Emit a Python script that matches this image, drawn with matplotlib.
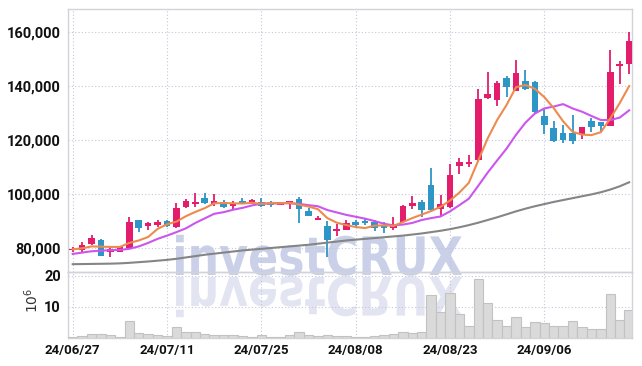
import matplotlib
matplotlib.use("Agg")
import matplotlib.pyplot as plt
import numpy as np
from matplotlib.textpath import TextPath
from matplotlib.patches import PathPatch
from matplotlib.font_manager import FontProperties
from matplotlib.transforms import Affine2D

# trading days (KRX), yy/mm/dd
dates = ["24/06/27", "24/06/28", "24/07/01", "24/07/02", "24/07/03", "24/07/04", "24/07/05", "24/07/08",
         "24/07/09", "24/07/10", "24/07/11", "24/07/12", "24/07/15", "24/07/16", "24/07/17", "24/07/18",
         "24/07/19", "24/07/22", "24/07/23", "24/07/24", "24/07/25", "24/07/26", "24/07/29", "24/07/30",
         "24/07/31", "24/08/01", "24/08/02", "24/08/05", "24/08/06", "24/08/07", "24/08/08", "24/08/09",
         "24/08/12", "24/08/13", "24/08/14", "24/08/16", "24/08/19", "24/08/20", "24/08/21", "24/08/22",
         "24/08/23", "24/08/26", "24/08/27", "24/08/28", "24/08/29", "24/08/30", "24/09/02", "24/09/03",
         "24/09/04", "24/09/05", "24/09/06", "24/09/09", "24/09/10", "24/09/11", "24/09/12", "24/09/13",
         "24/09/19", "24/09/20", "24/09/23", "24/09/24"]

opens = [79000, 79100, 81300, 83000, 78300, 78500, 80000, 90200, 88200, 88500,
         89900, 87700, 95100, 96100, 98400, 96300, 96800, 95500, 97400, 96700,
         96800, 96000, 96000, 96300, 98200, 93600, 90400, 88100, 86300, 86700,
         89500, 90000, 89400, 88400, 87400, 89600, 95500, 97000, 103200, 94500,
         95200, 110300, 110900, 112400, 135700, 134800, 143100, 138300, 142000, 141600,
         129000, 124400, 122600, 122600, 122000, 126900, 126800, 125100, 147300, 148200]
highs = [80200, 82000, 84700, 83400, 80400, 80400, 91400, 90300, 89600, 90400,
         90200, 96600, 98200, 100200, 100400, 99800, 97800, 97500, 98500, 98200,
         98500, 97300, 96900, 97500, 99000, 94600, 91900, 89900, 88900, 90200,
         90200, 90800, 90200, 89600, 91500, 95800, 99200, 97600, 109600, 99700,
         111200, 113300, 114500, 138900, 145300, 142000, 143800, 149700, 146000, 142000,
         131500, 126900, 125500, 129300, 124900, 128000, 126800, 153300, 149400, 160100]
lows = [78500, 78500, 81000, 76900, 76400, 78400, 79800, 85900, 86700, 87700,
        87700, 87500, 94800, 95100, 96300, 95600, 94800, 93900, 96100, 96300,
        95300, 95300, 95800, 94500, 89200, 91700, 90200, 76400, 84500, 86500,
        87700, 88400, 86200, 85300, 86500, 89400, 94300, 91500, 93700, 91800,
        94900, 107200, 109900, 111800, 135200, 132700, 135800, 138000, 138500, 130000,
        122200, 119100, 118900, 118500, 120400, 123100, 122800, 125000, 140700, 144400]
closes = [79500, 81000, 83800, 77000, 79400, 80100, 89400, 87400, 89000, 89400,
          88100, 94800, 97200, 96800, 96600, 97200, 95100, 96600, 96600, 97800,
          95500, 95800, 96800, 97400, 94500, 91900, 91000, 82800, 87000, 89200,
          88400, 89000, 87400, 87400, 88400, 95400, 96500, 93900, 93900, 96100,
          106900, 111800, 111900, 135200, 137200, 141000, 139800, 145000, 139000, 130200,
          125400, 119500, 120100, 119800, 124900, 124700, 125100, 145300, 148300, 156800]

# volume, millions of shares
volumes = [0.3, 0.4, 1.0, 1.3, 0.7, 0.3, 5.5, 1.4, 1.0, 0.9,
           0.6, 3.5, 1.8, 1.8, 1.3, 0.9, 0.7, 0.7, 0.6, 0.3,
           0.7, 0.3, 0.3, 0.7, 1.7, 0.8, 0.5, 0.9, 0.6, 0.5,
           0.3, 0.3, 0.5, 0.7, 1.0, 1.7, 1.5, 1.9, 13.8, 8.2,
           14.6, 7.5, 3.7, 19.1, 11.1, 5.6, 3.7, 6.6, 3.3, 4.9,
           4.7, 3.7, 3.7, 5.3, 3.4, 2.8, 2.8, 14.0, 5.6, 9.1]

# moving averages as shown on the chart
ma5 = [79400, 79800, 80500, 80400, 80300, 80300, 81800, 82700, 84000, 87000,
       88700, 89700, 91700, 93300, 94700, 96500, 96600, 96500, 96400, 96700,
       96300, 96500, 96500, 96700, 96000, 95300, 94300, 91000, 89300, 88400,
       87700, 87300, 88200, 88300, 88100, 89500, 91000, 92300, 93600, 95200,
       97500, 100500, 104100, 112400, 120600, 127400, 133000, 139600, 140400, 139000,
       135900, 131800, 126900, 123000, 122000, 121800, 122900, 128000, 133700, 140000]
ma10 = [77700, 78200, 78700, 78900, 79100, 79200, 79600, 80500, 81800, 83300,
        84500, 85800, 87200, 89200, 90900, 92600, 93200, 94100, 94800, 95700,
        96400, 96500, 96500, 96500, 96300, 95800, 95400, 94000, 93100, 92200,
        91500, 90800, 89900, 88900, 88300, 88600, 89200, 90300, 91000, 91600,
        93500, 95800, 98200, 103000, 107900, 112400, 116800, 121900, 126400, 129800,
        131700, 132400, 133300, 131700, 130500, 128900, 127400, 127400, 128300, 131000]
ma60 = [73900, 73950, 74000, 74050, 74100, 74200, 74400, 74650, 74900, 75200,
        75500, 75900, 76400, 76900, 77400, 77800, 78200, 78600, 79000, 79300,
        79600, 79900, 80200, 80500, 80800, 81100, 81500, 81900, 82300, 82700,
        83000, 83300, 83600, 83900, 84200, 84500, 84900, 85300, 85800, 86300,
        86900, 87600, 88400, 89300, 90300, 91300, 92400, 93500, 94500, 95400,
        96200, 97000, 97700, 98400, 99100, 99800, 100600, 101600, 102800, 104300]

UP = "#E31C6C"
DOWN = "#2E95C7"
GRID = "#C4C6DA"
SPINE = "#D2D2DA"

plt.rcParams["font.family"] = ["Roboto", "DejaVu Sans"]

W, H = 642, 366
fig = plt.figure(figsize=(W / 100, H / 100), dpi=100)


def px_axes(left, top, right, bottom):
    return fig.add_axes([left / W, 1 - bottom / H, (right - left) / W, (bottom - top) / H])


ax = px_axes(68, 9, 632, 272)
axv = px_axes(68, 272, 632, 337.5)

# watermark with its reflection, behind the plot content
fp = FontProperties(family="DejaVu Sans", weight="bold")
tp = TextPath((0, 0), "investCRUX", size=100, prop=fp)
ext = tp.get_extents()
sx = (462 - 176) / ext.width
sy = (275 - 234) / ext.height
to_fig = Affine2D().scale(1 / W, 1 / H) + fig.transFigure
mark = Affine2D().translate(-ext.x0, 0).scale(sx, sy).translate(176, H - 275)
fig.add_artist(PathPatch(tp, transform=mark + to_fig, color="#C9D0E8", lw=0, zorder=-2))
refl = Affine2D().translate(-ext.x0, 0).scale(sx, -sy).translate(176, H - 277)
fig.add_artist(PathPatch(tp, transform=refl + to_fig, color="#E2E5F1", lw=0, zorder=-2))

x = np.arange(len(closes))
o = np.array(opens)
c = np.array(closes)
cols = np.where(c >= o, UP, DOWN)

ax.vlines(x, lows, highs, colors=cols, linewidth=1.3, zorder=3)
ax.bar(x, np.maximum(np.abs(c - o), 350), bottom=np.minimum(o, c), width=0.7, color=cols, zorder=4)
ax.plot(x, ma60, color="#858585", linewidth=1.5, zorder=5)
ax.plot(x, ma10, color="#CC55EE", linewidth=1.5, zorder=5)
ax.plot(x, ma5, color="#EE8A4E", linewidth=1.5, zorder=5)

axv.bar(x, volumes, width=1.0, color="#DADADA", edgecolor="#C2C2C2", linewidth=0.8, zorder=3)

for a in (ax, axv):
    a.set_facecolor("none")
    a.set_xlim(-0.5, 59.3)
    a.set_xticks(range(0, 60, 10))
    a.grid(True, linestyle=(0, (1, 2)), color=GRID, linewidth=0.8, zorder=0)
    a.set_axisbelow(True)
    for s in a.spines.values():
        s.set_color(SPINE)
        s.set_linewidth(1.0)
    a.tick_params(length=0, pad=5, labelsize=10.5, labelcolor="#111111")

ax.set_ylim(71000, 168600)
yt = [80000, 100000, 120000, 140000, 160000]
ax.set_yticks(yt)
ax.set_yticklabels([f"{v:,}" for v in yt], fontweight="bold")
ax.set_xticklabels([])

axv.set_ylim(0, 21.3)
axv.set_yticks([10, 20])
axv.set_yticklabels(["10", "20"], fontweight="bold")
axv.set_xticklabels([dates[i] for i in range(0, 60, 10)], fontweight="bold", fontsize=9.5)

fig.text(32 / W, 1 - 300 / H, r"$10^6$", rotation=90, ha="center", va="center",
         fontsize=10, family="DejaVu Serif", color="#333333")

fig.savefig("out.png", dpi=100)
